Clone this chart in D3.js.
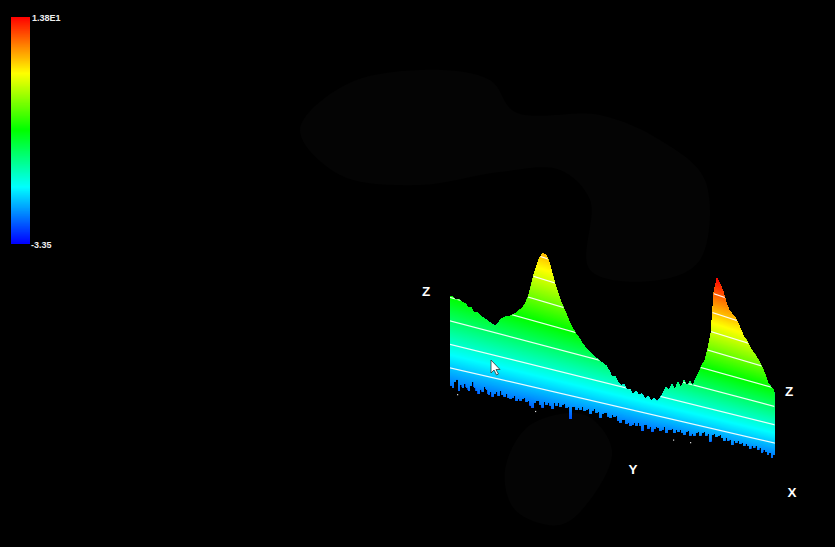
<!DOCTYPE html>
<html><head><meta charset="utf-8">
<script src="https://cdn.jsdelivr.net/npm/d3@7"></script>
<style>html,body{margin:0;padding:0;background:#000;overflow:hidden}svg{display:block}</style>
</head><body><svg id="c" width="835" height="547"></svg>
<script>
const zMin=-3.35, zMax=13.8;
const legendLabels=["1.38E1","-3.35"];
const axisLabels=["Z","Z","Y","X"];
const contourLevels=[0,1.75,3.5,5.25,7,8.75,10.5,12.25];
const colorStops=["#0000ff","#00ffff","#00ff00","#ffff00","#ff0000"];
const topZ=[5.3,5.35,5.2,5.3,5.15,5.1,4.9,4.95,4.6,4.7,4.5,4.4,4.3,4.2,4.1,4.0,4.25,4.7,4.85,5.0,5.1,5.3,5.45,5.75,5.95,6.4,6.95,7.9,8.95,9.75,10.45,10.8,10.75,10.3,9.5,8.7,8.05,7.4,6.9,6.4,5.9,5.5,5.15,4.9,4.55,4.3,4.05,3.9,3.7,3.6,3.45,3.3,3.2,2.85,2.4,2.5,2.1,1.85,2.0,1.6,1.75,1.35,1.7,1.4,1.6,1.2,1.55,1.15,1.5,1.2,1.6,2.1,2.7,2.45,3.05,2.7,3.4,3.0,3.7,3.25,3.75,3.4,4.2,4.8,5.5,6.03,7.19,8.62,12.42,13.8,13.3,12.79,11.88,11.25,10.97,10.77,10.31,9.75,9.19,8.91,8.44,8.05,7.77,7.38,6.9,6.32,5.55,5.25,5.05];
const bottomZ=[-1.3,-1.45,-1.0,-0.75,-1.6,-1.1,-1.3,-0.95,-1.2,-1.4,-1.0,-0.7,-1.05,-1.3,-1.5,-1.1,-1.25,-0.85,-1.0,-1.35,-1.15,-1.45,-1.2,-1.0,-1.3,-0.9,-1.15,-1.25,-1.0,-1.3,-1.35,-1.2,-1.0,-1.4,-1.2,-1.3,-1.1,-1.0,-1.3,-1.2,-1.5,-1.65,-1.25,-1.05,-1.0,-1.3,-1.45,-1.0,-1.2,-0.95,-1.15,-1.4,-0.9,-1.05,-0.8,-1.1,-0.85,-0.75,-1.05,-0.95,-1.9,-0.9,-0.8,-1.05,-0.85,-1.0,-0.7,-0.95,-0.85,-0.7,-1.1,-0.8,-0.65,-0.95,-0.8,-1.25,-0.9,-0.75,-0.7,-1.0,-1.1,-0.8,-0.95,-0.75,-1.15,-1.3,-1.05,-0.95,-1.3,-1.15,-1.4,-1.25,-1.05,-1.3,-1.0,-1.2,-1.6,-1.05,-0.95,-1.25,-1.1,-1.45,-1.2,-0.95,-1.0,-1.25,-1.1,-0.85,-1.3,-1.0,-0.95,-0.8,-1.15,-0.85,-1.0,-0.75,-0.95,-1.1,-0.8,-0.7,-1.05,-0.85,-1.0,-0.75,-0.55,-0.85,-0.6,-0.45,-0.75,-0.55,-1.2,-0.6,-0.45,-0.7,-0.55,-0.4,-0.65,-0.85,-0.5,-0.75,-0.6,-1.1,-0.65,-0.8,-0.6,-0.85,-0.65,-0.95,-0.7,-0.8,-1.05,-0.75,-0.9,-0.7,-1.0,-0.8,-1.15,-0.9,-1.05,-1.3,-1.0,-1.45,-1.15];
const speckX=[457,535,673,690], speckZ=[-1.85,-1.85,-1.75,-1.65];
const blobAX=[300,345,420,490,515,600,660,705,700,660,590,590,560,500,420,340];
const blobAY=[130,85,70,80,112,115,140,180,260,280,270,200,170,172,185,175];
const blobBX=[505,530,585,612,590,560,515];
const blobBY=[470,425,415,450,500,525,510];

const svg=d3.select("#c");
svg.append("rect").attr("width",835).attr("height",547).attr("fill","#000");
const blob=d3.line().curve(d3.curveCatmullRomClosed);
svg.append("path").attr("d",blob(blobAX.map((v,i)=>[v,blobAY[i]]))).attr("fill","#040404");
svg.append("path").attr("d",blob(blobBX.map((v,i)=>[v,blobBY[i]]))).attr("fill","#040404");

const color=d3.scaleLinear().domain(d3.range(5).map(i=>zMin+(zMax-zMin)*i/4)).range(colorStops);

// Colour bar: painted bottom-up, each band reaching to the top, so no seams show
const barY=d3.scaleLinear().domain([zMin,zMax]).range([244,17]);
const bands=d3.range(zMin,zMax,0.05);
svg.append("g").selectAll("rect").data(bands).join("rect")
  .attr("x",11).attr("width",19)
  .attr("y",barY(zMax)).attr("height",d=>barY(d)-barY(zMax))
  .attr("fill",d=>color(d));
svg.append("g").selectAll("text").data(legendLabels).join("text")
  .attr("x",(d,i)=>i?31:32).attr("y",(d,i)=>i?248:21)
  .attr("fill","#eee").attr("font-family","Liberation Sans, Arial, sans-serif")
  .attr("font-weight","bold").attr("font-size",9).text(d=>d);

// Sheared surface: position along the profile, baseline and vertical gain
const xTop=d3.scaleLinear().domain([0,topZ.length-1]).range([450,774]);
const xBot=d3.scaleLinear().domain([0,bottomZ.length]).range([450,775]);
const base=d3.scaleLinear().domain([451,774]).range([368,443]);
const gain=d3.scaleLinear().domain([451,774]).range([13.4,10.5]);
const py=(x,z)=>base(x)-gain(x)*z;

const outline=topZ.map((z,i)=>[xTop(i),py(xTop(i),z)])
  .concat(bottomZ.flatMap((z,i)=>[[xBot(i),py(xBot(i),z)],[xBot(i+1),py(xBot(i),z)]]).reverse());
svg.append("clipPath").attr("id","surf").append("path").attr("d",d3.line()(outline)+"Z");
const g=svg.append("g").attr("clip-path","url(#surf)");
const x0=445,x1=780,step=0.05;
g.selectAll("path.b").data(d3.range(zMin,zMax+1,step)).join("path").attr("class","b")
  .attr("d",z=>d3.line()([[x0,py(x0,z)],[x1,py(x1,z)],[x1,0],[x0,0]])+"Z")
  .attr("fill",z=>color(Math.min(z,zMax)));
g.selectAll("line").data(contourLevels).join("line")
  .attr("x1",x0).attr("x2",x1)
  .attr("y1",z=>py(x0,z)).attr("y2",z=>py(x1,z))
  .attr("stroke","#fff").attr("stroke-width",1.2).attr("stroke-opacity",0.92);

svg.append("g").selectAll("rect").data(speckX).join("rect")
  .attr("x",d=>d).attr("y",(d,i)=>py(d,speckZ[i])).attr("width",1.2).attr("height",1.2).attr("fill","#ddd");

// Axis letters
const letterX=[426,789,633,792], letterY=[296,396,474,497];
svg.append("g").selectAll("text").data(axisLabels).join("text")
  .attr("x",(d,i)=>letterX[i]).attr("y",(d,i)=>letterY[i]).attr("text-anchor","middle")
  .attr("fill","#fff").attr("font-family","Liberation Sans, Arial, sans-serif")
  .attr("font-weight","bold").attr("font-size",13.5).text(d=>d);

// Mouse pointer
svg.append("path").attr("transform","translate(491,360)")
  .attr("d","M0,0V13L3,10L5.5,15L7.5,14L5,9.5H9Z")
  .attr("fill","#fff").attr("stroke","#333").attr("stroke-width",0.8);
</script></body></html>
